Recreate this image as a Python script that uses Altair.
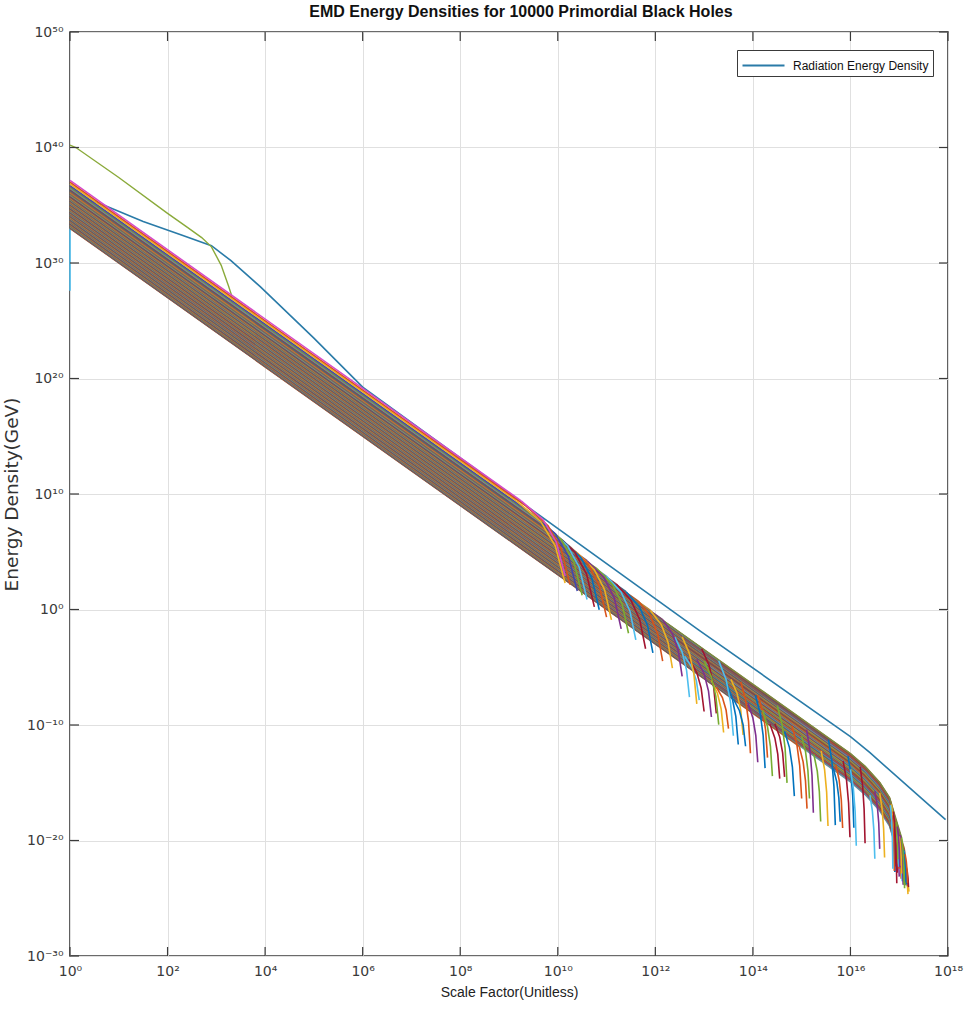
import numpy as np
import pandas as pd
import altair as alt

W, H = 878, 924

# ---------------- data (log10 values) ----------------
XTICK_EXP = [0, 2, 4, 6, 8, 10, 12, 14, 16, 18]
YTICK_EXP = [-30, -20, -10, 0, 10, 20, 30, 40, 50]

# Radiation energy density
RAD_LOGA = [0.0, 0.3, 0.7, 1.5, 2.3, 2.9, 3.3, 3.9, 5.0, 6.0, 9.2, 12.9, 16.0, 16.4, 17.95]
RAD_LOGR = [36.3, 35.6, 35.0, 33.6, 32.4, 31.5, 30.2, 27.95, 23.5, 19.25, 9.45, -1.8, -11.0, -12.4, -18.2]

# early green curve
GREEN_LOGA = [0.0, 0.12, 1.0, 2.0, 2.4, 2.7, 2.9, 3.1, 3.25, 3.32]
GREEN_LOGR = [40.2, 40.0, 37.4, 34.3, 33.1, 32.2, 31.4, 29.8, 28.0, 27.1]

# short cyan segment at a = 1
CYAN_LOGA = [0.0, 0.0]
CYAN_LOGR = [27.6, 33.0]

# common dilution track of the black-hole curves (relative to their value at a = 1)
TRACK_LOGA = [0.0, 16.0, 16.3, 16.6, 16.8, 17.0, 17.1, 17.2]
TRACK_DROP = [0.0, -48.0, -49.1, -50.5, -51.8, -54.6, -56.0, -58.5]

# black-hole curves: level at a = 1, scale factor where the final drop starts,
# width (decades of a) and depth (decades of rho) of that drop
BAND_START = [37.15, 37.00, 36.85, 36.70, 36.58, 36.47, 36.38, 36.28, 36.19, 36.10,
              36.02, 35.94, 35.87, 35.80, 35.74, 35.68, 35.62, 35.57,
              35.52, 35.47, 35.43, 35.38, 35.33, 35.28, 35.24, 35.19, 35.14, 35.10,
              35.05, 35.00, 34.95, 34.91, 34.86, 34.81, 34.76, 34.72, 34.67, 34.62,
              34.58, 34.53, 34.48, 34.43, 34.39, 34.34, 34.29, 34.24, 34.20, 34.15,
              34.10, 34.06, 34.01, 33.96, 33.91, 33.87, 33.82, 33.77, 33.72, 33.68,
              33.63, 33.58, 33.54, 33.49, 33.44, 33.39, 33.35, 33.30, 33.25, 33.20,
              33.16, 33.11, 33.06, 33.01,
              35.50, 35.35, 35.21, 35.07, 34.93, 34.79, 34.65, 34.50, 34.36, 34.22,
              34.08, 33.94, 33.80, 33.65, 33.51, 33.37, 33.23, 33.08,
              35.45, 35.16, 34.88, 34.60, 34.31, 34.03, 33.75, 33.46, 33.18, 33.03]
BAND_END = [9.25, 9.35, 9.15, 9.5, 9.65, 9.8, 9.95, 10.1, 10.25, 10.4,
            10.6, 10.8, 11.0, 11.2, 11.4, 11.65, 11.9, 12.15,
            17.05, 13.3, 16.88, 15.55, 17.12, 12.55, 16.96, 14.5, 16.82, 16.2,
            17.09, 13.75, 17.0, 15.1, 16.92, 12.4, 17.14, 14.05, 16.85, 16.6,
            17.03, 13.0, 16.94, 15.85, 17.1, 14.8, 16.97, 12.85, 17.06, 16.0,
            16.9, 13.45, 17.13, 15.4, 16.98, 14.2, 17.01, 12.7, 16.86, 15.7,
            17.15, 13.9, 17.07, 16.4, 17.02, 14.65, 17.08, 13.15, 17.04, 15.25,
            17.11, 14.35, 13.6, 14.95,
            16.84, 17.02, 16.93, 17.1, 16.87, 17.05, 16.95, 17.12, 16.89, 17.0,
            17.08, 16.91, 17.04, 16.99, 17.13, 16.95, 17.06, 17.1,
            12.95, 15.95, 14.1, 13.55, 16.5, 15.0, 12.6, 14.45, 15.65, 13.25]
SPIKE_W = [0.9, 0.9, 1.0, 0.9, 0.85, 0.8, 0.8, 0.75, 0.75, 0.7,
           0.7, 0.65, 0.6, 0.6, 0.55, 0.5, 0.45, 0.4,
           0.05, 0.3, 0.05, 0.14, 0.05, 0.3, 0.05, 0.2, 0.05, 0.1,
           0.05, 0.2, 0.05, 0.14, 0.05, 0.3, 0.05, 0.2, 0.05, 0.1,
           0.05, 0.3, 0.05, 0.14, 0.05, 0.2, 0.05, 0.3, 0.05, 0.12,
           0.05, 0.25, 0.05, 0.14, 0.05, 0.2, 0.05, 0.3, 0.05, 0.14,
           0.05, 0.2, 0.05, 0.1, 0.05, 0.2, 0.05, 0.25, 0.05, 0.14,
           0.05, 0.2, 0.25, 0.16,
           0.05, 0.05, 0.05, 0.05, 0.05, 0.05, 0.05, 0.05, 0.05, 0.05,
           0.05, 0.05, 0.05, 0.05, 0.05, 0.05, 0.05, 0.05,
           0.3, 0.12, 0.2, 0.25, 0.1, 0.16, 0.3, 0.2, 0.14, 0.25]
SPIKE_D = [6.5, 6.8, 7.1, 6.6, 6.4, 6.2, 6.3, 6.0, 6.1, 5.8,
           5.9, 5.6, 5.5, 5.6, 5.3, 5.2, 5.0, 4.9,
           4.0, 6.5, 4.5, 7.4, 2.5, 5.8, 3.5, 6.7, 5.5, 6.6,
           2.8, 6.2, 3.2, 7.2, 3.0, 5.2, 1.8, 6.3, 4.8, 5.6,
           3.4, 5.5, 3.0, 6.6, 2.2, 6.3, 2.3, 5.0, 2.9, 6.6,
           4.6, 5.4, 1.2, 6.5, 2.0, 5.7, 2.6, 4.5, 3.8, 5.5,
           0.8, 5.1, 1.8, 5.5, 1.6, 5.6, 1.5, 4.5, 1.2, 5.8,
           0.8, 4.7, 4.1, 5.4,
           3.8, 3.0, 3.6, 2.4, 4.4, 2.8, 3.2, 2.0, 4.0, 2.7,
           2.0, 3.4, 2.2, 2.5, 1.4, 2.6, 1.6, 1.0,
           5.6, 6.2, 5.4, 4.8, 5.0, 5.4, 3.8, 4.6, 4.6, 3.6]

# ---------------- styles ----------------
PALETTE = ["#0072BD", "#D95319", "#EDB120", "#7E2F8E", "#77AC30", "#4DBEEE", "#A2142F"]
TOP_COLORS = ["#D64BC6", "#D95319", "#EDB120", "#3F48B0"]
BODY_TINT = "#7d6450"      # dense overlap of thousands of curves reads as brown
BODY_MIX = 0.5
RAD_COLOR = "#2A7BA8"
GREEN_COLOR = "#8AAA3A"
CYAN_COLOR = "#4DBEEE"
AXIS_COLOR = "#3a3a3a"
FONT = "Liberation Sans"
TICK_FONT = "DejaVu Sans"

SUP = {"0": "⁰", "1": "¹", "2": "²", "3": "³", "4": "⁴", "5": "⁵",
       "6": "⁶", "7": "⁷", "8": "⁸", "9": "⁹", "-": "⁻"}


def sup_label(e):
    return "10" + "".join(SUP[c] for c in str(e))


def label_expr(exps):
    expr = "''"
    for e in reversed(exps):
        expr = f"round(log(datum.value)/LN10) == {e} ? '{sup_label(e)}' : ({expr})"
    return expr


def mix(c1, c2, t):
    a = [int(c1[i:i + 2], 16) for i in (1, 3, 5)]
    b = [int(c2[i:i + 2], 16) for i in (1, 3, 5)]
    return "#" + "".join(f"{round(x * (1 - t) + y * t):02x}" for x, y in zip(a, b))


# ---------------- tables ----------------
rad_df = pd.DataFrame({"a": [10.0 ** v for v in RAD_LOGA],
                       "rho": [10.0 ** v for v in RAD_LOGR],
                       "seq": list(range(len(RAD_LOGA))),
                       "series": "Radiation Energy Density"})
green_df = pd.DataFrame({"a": [10.0 ** v for v in GREEN_LOGA],
                         "rho": [10.0 ** v for v in GREEN_LOGR],
                         "seq": list(range(len(GREEN_LOGA)))})
cyan_df = pd.DataFrame({"a": [10.0 ** v for v in CYAN_LOGA],
                        "rho": [10.0 ** v for v in CYAN_LOGR],
                        "seq": list(range(len(CYAN_LOGA)))})

rows = []
n = len(BAND_START)
for i in range(n):
    s, k, w, d = BAND_START[i], BAND_END[i], SPIKE_W[i], SPIKE_D[i]
    body = [(t, s + dr) for t, dr in zip(TRACK_LOGA, TRACK_DROP) if t < k]
    v = s + float(np.interp(k, TRACK_LOGA, TRACK_DROP))
    body.append((k, v))
    spike = [(k, v), (k + 0.5 * w, v - 0.25 * d), (k + 0.8 * w, v - 0.55 * d), (k + w, v - d)]
    col = TOP_COLORS[i] if i < len(TOP_COLORS) else PALETTE[i % len(PALETTE)]
    body_col = col if i < len(TOP_COLORS) else mix(col, BODY_TINT, BODY_MIX)
    lid = f"{n - 1 - i:03d}"
    for j, (la, lr) in enumerate(body):
        rows.append({"line": "B" + lid, "seq": j, "a": 10.0 ** la, "rho": 10.0 ** lr, "col": body_col})
    for j, (la, lr) in enumerate(spike):
        rows.append({"line": "S" + lid, "seq": j, "a": 10.0 ** la, "rho": 10.0 ** lr, "col": col})
band_df = pd.DataFrame(rows).sort_values(["line", "seq"]).reset_index(drop=True)

xt_df = pd.DataFrame({"a": [10.0 ** e for e in XTICK_EXP]})
yt_df = pd.DataFrame({"rho": [10.0 ** e for e in YTICK_EXP]})

# ---------------- scales & axes ----------------
XS = alt.Scale(type="log", domain=[1, 1e18], nice=False)
YS = alt.Scale(type="log", domain=[1e-30, 1e50], nice=False)

XAXIS = alt.Axis(values=[10.0 ** e for e in XTICK_EXP], labelExpr=label_expr(XTICK_EXP),
                 grid=True, gridColor="#e0e0e0", gridWidth=1, ticks=False, domain=False,
                 labelFont=TICK_FONT, labelFontSize=14, labelColor="#3a3a3a",
                 labelPadding=8, labelFlush=False, labelOverlap=False,
                 title="Scale Factor(Unitless)", titleFont=FONT, titleFontSize=14,
                 titleFontWeight="normal", titleColor="#222222", titlePadding=7)
YAXIS = alt.Axis(values=[10.0 ** e for e in YTICK_EXP], labelExpr=label_expr(YTICK_EXP),
                 grid=True, gridColor="#e0e0e0", gridWidth=1, ticks=False, domain=False,
                 labelFont=TICK_FONT, labelFontSize=14, labelColor="#3a3a3a",
                 labelPadding=7, labelOverlap=False, labelFlush=False,
                 title="Energy Density(GeV)", titleFont="DejaVu Sans", titleFontSize=18.5,
                 titleFontWeight="normal", titleColor="#333333", titlePadding=5)

X = alt.X("a:Q", scale=XS, axis=XAXIS)
Y = alt.Y("rho:Q", scale=YS, axis=YAXIS)

rad = alt.Chart(rad_df).mark_line(strokeWidth=1.6).encode(
    x=X, y=Y, order="seq:Q",
    color=alt.Color("series:N",
                    scale=alt.Scale(domain=["Radiation Energy Density"], range=[RAD_COLOR]),
                    legend=alt.Legend(title=None, orient="none", legendX=667, legendY=18,
                                      symbolType="M-2,0L2,0", symbolSize=441, symbolStrokeWidth=2,
                                      symbolOffset=11,
                                      labelFont=FONT, labelFontSize=12, labelColor="#111111",
                                      strokeColor="#3a3a3a", fillColor="white", padding=4,
                                      labelOffset=18)))

green = alt.Chart(green_df).mark_line(strokeWidth=1.4, color=GREEN_COLOR).encode(
    x=X, y=Y, order="seq:Q")
cyan = alt.Chart(cyan_df).mark_line(strokeWidth=1.6, color=CYAN_COLOR).encode(
    x=X, y=Y, order="seq:Q")

band = alt.Chart(band_df).mark_line(strokeWidth=1.6).encode(
    x=X, y=Y, detail="line:N", order="seq:Q",
    color=alt.Color("col:N", scale=None, legend=None))

tick_len = 9
xt_bottom = alt.Chart(xt_df).mark_rule(color=AXIS_COLOR, strokeWidth=1.2).encode(
    x=X, y=alt.value(H), y2=alt.value(H - tick_len))
xt_top = alt.Chart(xt_df).mark_rule(color=AXIS_COLOR, strokeWidth=1.2).encode(
    x=X, y=alt.value(0), y2=alt.value(tick_len))
yt_left = alt.Chart(yt_df).mark_rule(color=AXIS_COLOR, strokeWidth=1.2).encode(
    y=Y, x=alt.value(0), x2=alt.value(tick_len))
yt_right = alt.Chart(yt_df).mark_rule(color=AXIS_COLOR, strokeWidth=1.2).encode(
    y=Y, x=alt.value(W), x2=alt.value(W - tick_len))

chart = alt.layer(rad, green, cyan, band, xt_bottom, xt_top, yt_left, yt_right).resolve_scale(
    color="independent"
).properties(
    width=W, height=H,
    title=alt.TitleParams(text="EMD Energy Densities for 10000 Primordial Black Holes",
                          font=FONT, fontSize=16, fontWeight="bold", color="#111111",
                          anchor="middle", offset=5, dx=12),
    padding={"left": 70, "top": 32, "right": 17, "bottom": 59},
    autosize=alt.AutoSizeParams(type="none"),
    background="white",
).configure_view(stroke=AXIS_COLOR, strokeWidth=1.6)

chart.save("out.html", embed_options={"renderer": "svg", "actions": False})
